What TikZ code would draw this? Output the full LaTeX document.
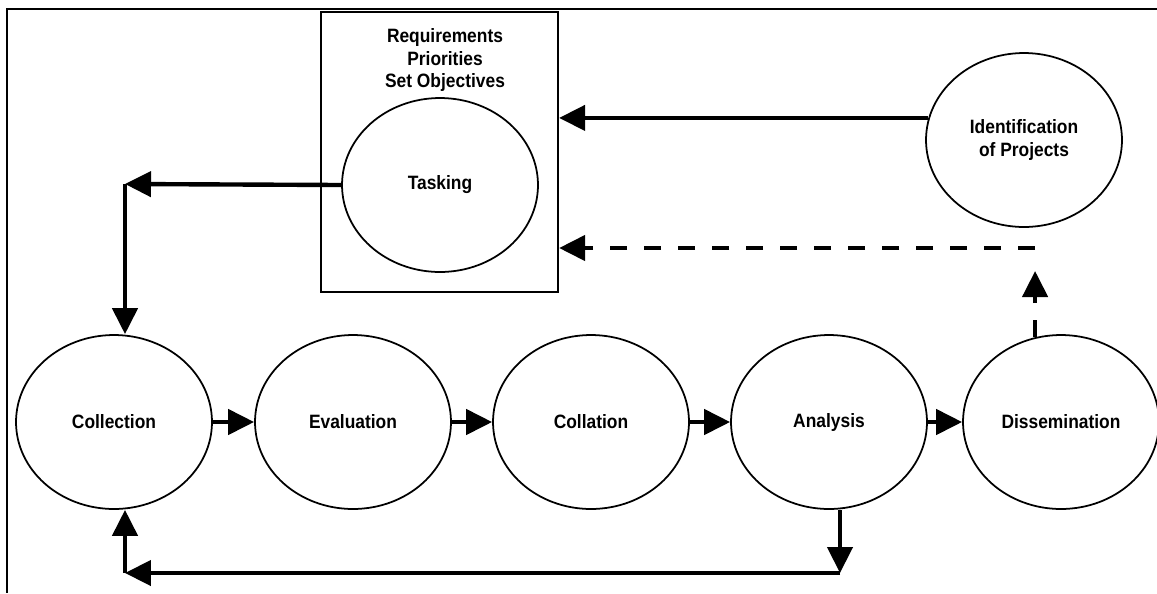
\documentclass[tikz,border=0pt]{standalone}
\usepackage{fontspec}
\newfontfamily\lblfont{Liberation Sans}[FakeStretch=0.9]
\usetikzlibrary{shapes.geometric}
\usetikzlibrary{arrows.meta}

\begin{document}
\begin{tikzpicture}[x=0.02cm,y=-0.02cm,
	stage/.style={ellipse,draw,line width=1pt,minimum width=3.92cm,minimum height=3.48cm,inner sep=0pt,align=center},
	arr/.style={line width=2.5pt,-{Triangle[length=0.52cm,width=0.5cm]}},
	dashline/.style={dash pattern=on 0.34cm off 0.34cm},
	font=\lblfont\bfseries\fontsize{11}{12.8}\selectfont]
	
	\useasboundingbox (0,0) rectangle (1157,593);
	\draw[line width=1.5pt] (1157,9) -- (7,9) -- (7,593);
	
	\node[draw,line width=1.3pt,minimum width=4.74cm,minimum height=5.6cm] (box) at (439.5,152) {};
	\node[align=center] (req) at (445,60) {Requirements\\Priorities\\Set Objectives};
	
	\node[stage] (task) at (440,185) {Tasking};
	\node[stage] (ident) at (1024,140) {Identification\\of Projects};
	
	\node[stage] (coll) at (114,422) {Collection};
	\node[stage] (eval) at (353,422) {Evaluation};
	\node[stage] (colla) at (591,422) {Collation};
	\node[stage] (anal) at (829,422) {Analysis};
	\node[stage] (diss) at (1061,422) {Dissemination};
	
	\coordinate (c1) at (125,184);
	\coordinate (c2) at (840,573);
	\coordinate (c3) at (125,573);
	\coordinate (d1) at (1035,271);
	\coordinate (d2) at (1035,248);
	
	\draw[arr] (ident.167) -- (ident.167 -| box.east);
	\draw[arr] (task.west) -- (c1);
	\draw[arr] (c1) -- (c1 |- coll.north);
	
	\draw[arr] (coll) -- (eval);
	\draw[arr] (eval) -- (colla);
	\draw[arr] (colla) -- (anal);
	\draw[arr] (anal) -- (diss);
	
	\draw[arr] (anal.south -| c2) -- (c2);
	\draw[arr] (c2) -- (c3);
	\draw[arr] (c3) -- (c3 |- coll.south);
	
	\draw[arr,dashline] (diss.107) -- (diss.107 |- d1);
	\draw[arr,dashline] (d2) -- (d2 -| box.east);
	\end{tikzpicture}
\end{document}
